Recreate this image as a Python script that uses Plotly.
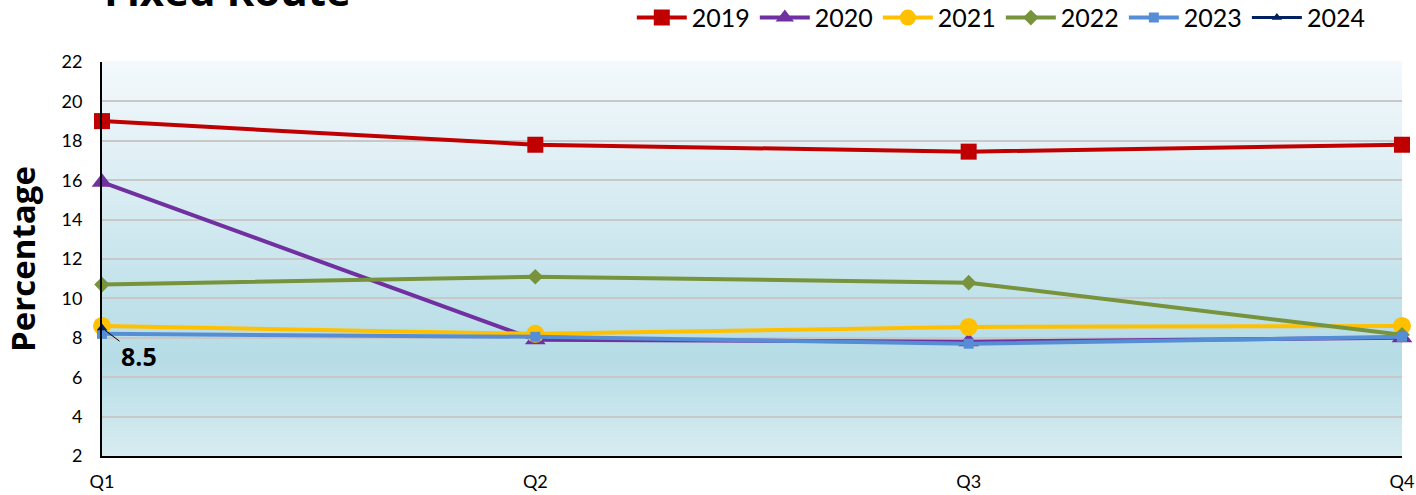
import plotly.graph_objects as go

quarters = ["Q1", "Q2", "Q3", "Q4"]
y2019 = [19.0, 17.8, 17.45, 17.8]
y2020 = [15.9, 7.9, 7.8, 8.0]
y2021 = [8.6, 8.2, 8.55, 8.6]
y2022 = [10.7, 11.1, 10.8, 8.15]
y2023 = [8.2, 8.05, 7.7, 8.05]
y2024 = [8.5]
yticks = [2, 4, 6, 8, 10, 12, 14, 16, 18, 20, 22]

FONT = "Lato"
xs = list(range(len(quarters)))

fig = go.Figure()
series = [
    ("2019", y2019, "#C00000", "square", 16, 4),
    ("2020", y2020, "#7030A0", "triangle-up", 18, 4),
    ("2021", y2021, "#FFC000", "circle", 18, 4),
    ("2022", y2022, "#77933C", "diamond", 12, 4),
    ("2023", y2023, "#558ED5", "square", 10, 4),
    ("2024", y2024, "#002060", "triangle-up", 9, 3),
]
for name, ys, col, sym, sz, w in series:
    fig.add_trace(go.Scatter(
        x=xs[:len(ys)], y=ys, name=name, mode="lines+markers",
        line=dict(color=col, width=w),
        marker=dict(symbol=sym, size=sz, color=col),
        cliponaxis=False,
    ))

# gradient background
def lerp(a, b, t):
    return tuple(int(round(a[i] + (b[i] - a[i]) * t)) for i in range(3))

top = (244, 249, 252)
mid = (181, 220, 230)
bot = (216, 236, 241)
n = 80
shapes = []
for i in range(n):
    t0 = i / n
    t1 = (i + 1) / n
    tc = (t0 + t1) / 2
    p = 1 - tc
    if p < 0.75:
        c = lerp(top, mid, p / 0.75)
    else:
        c = lerp(mid, bot, (p - 0.75) / 0.25)
    shapes.append(dict(type="rect", xref="paper", yref="paper", x0=0, x1=1,
                       y0=t0, y1=t1 + 0.002, line=dict(width=0),
                       fillcolor="rgb(%d,%d,%d)" % c, layer="below"))

fig.update_layout(
    width=1416, height=495,
    margin=dict(l=102, r=14, t=62, b=39, autoexpand=False),
    paper_bgcolor="white", plot_bgcolor="white",
    shapes=shapes,
    showlegend=True,
    legend=dict(orientation="h", x=0.976, xanchor="right", y=1.112, yanchor="middle",
                font=dict(family=FONT, size=25, color="black"),
                itemwidth=50, tracegroupgap=0, bgcolor="rgba(0,0,0,0)"),
    xaxis=dict(range=[0, 3], tickvals=xs, ticktext=quarters, showgrid=False,
               showline=True, linecolor="black", linewidth=2, zeroline=False,
               ticks="outside", ticklen=8, tickcolor="rgba(0,0,0,0)",
               automargin=False,
               tickfont=dict(family=FONT, size=18, color="black")),
    yaxis=dict(range=[2, 22], tickvals=yticks, showgrid=True, gridcolor="#c8c8c8",
               gridwidth=1.5, showline=True, linecolor="black", linewidth=2,
               zeroline=False, ticks="outside", ticklen=14,
               tickcolor="rgba(0,0,0,0)", automargin=False,
               tickfont=dict(family=FONT, size=18, color="black"),
               title=dict(text="<b>Percentage</b>", standoff=16,
                          font=dict(family="Open Sans", size=33, color="black"))),
    annotations=[
        dict(text="<b>Fixed Route</b>", xref="paper", yref="paper", x=0.0, y=1.106,
             xanchor="left", yanchor="bottom", showarrow=False,
             font=dict(family="Open Sans", size=42, color="black")),
        dict(text="<b>8.5</b>", x=0, y=y2024[0], xref="x", yref="y",
             ax=37, ay=28, axref="pixel", ayref="pixel", xanchor="center",
             showarrow=True, arrowhead=0, arrowwidth=1, arrowcolor="black",
             standoff=4,
             font=dict(family="Open Sans", size=25, color="black")),
    ],
)

fig.write_html("out.html", config={"displayModeBar": False},
               post_script="document.body.style.margin='0';document.body.style.overflow='hidden';")
